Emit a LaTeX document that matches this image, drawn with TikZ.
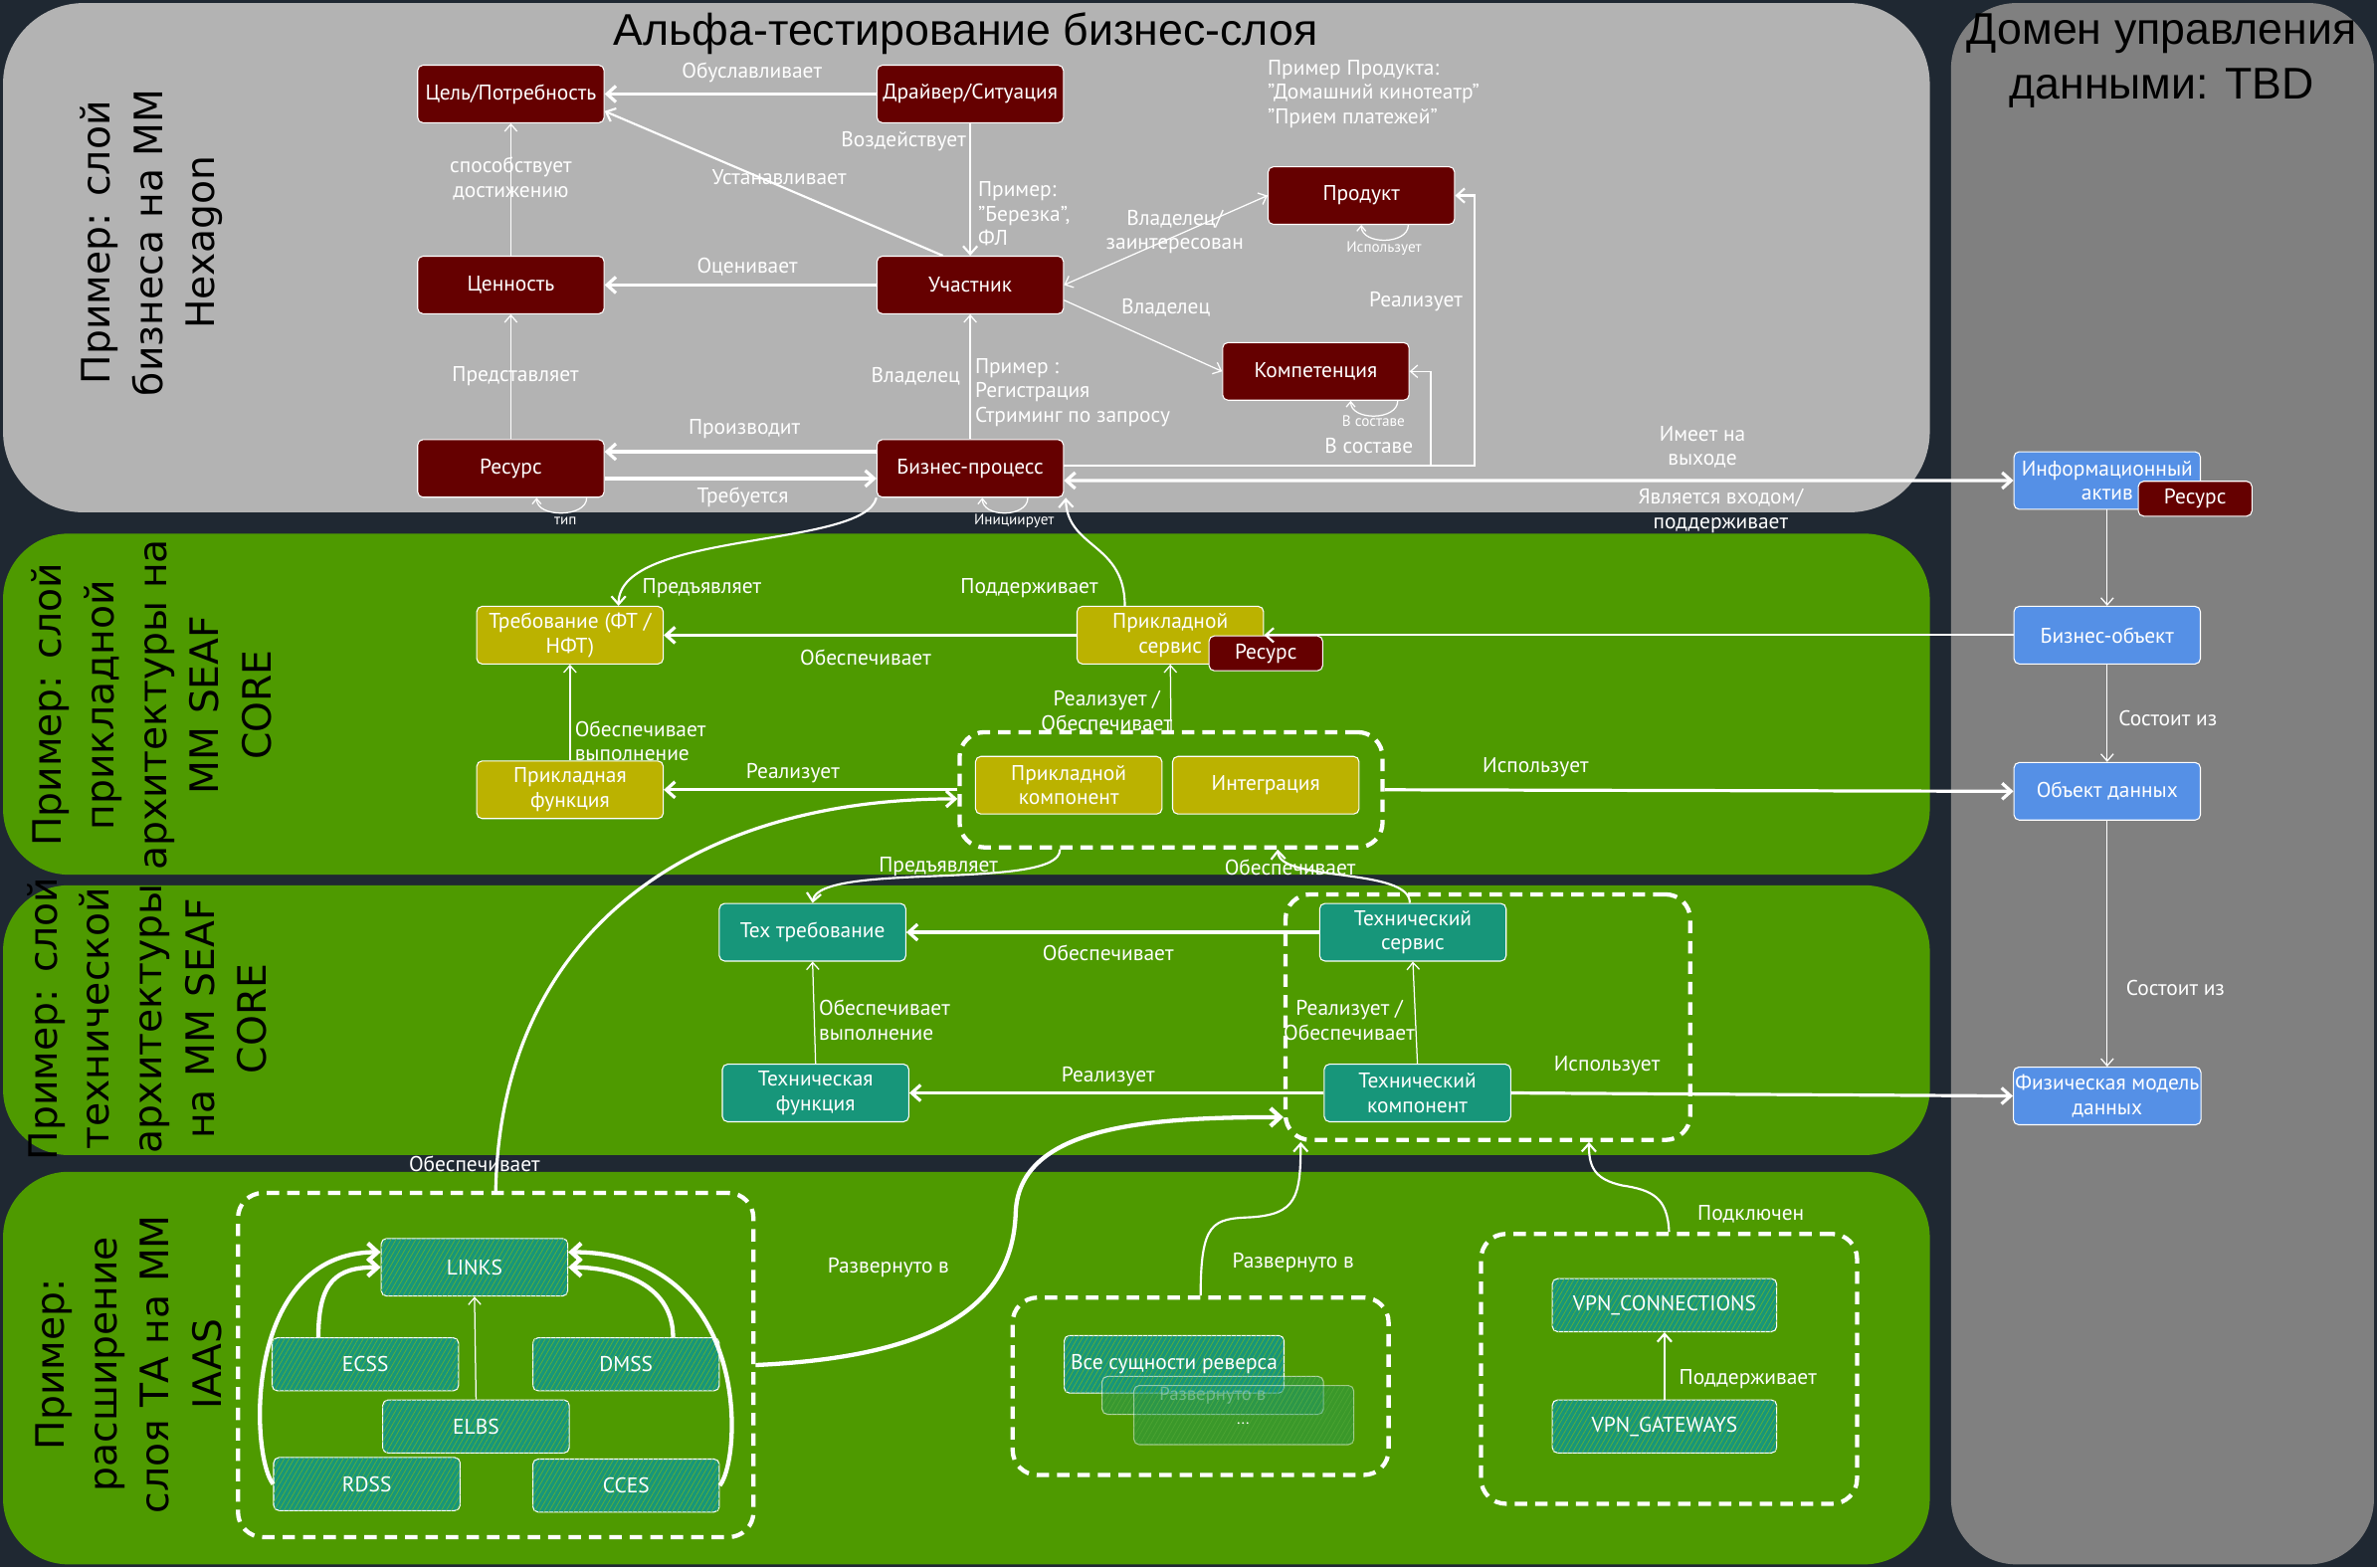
\documentclass[tikz,border=0pt]{standalone}
\usepackage{fontspec}
\setmainfont{PT Sans}
\newfontfamily\headfont{Liberation Sans}
\newfontfamily\sidefont{DejaVu Sans}
\usetikzlibrary{arrows.meta,patterns,patterns.meta}

\definecolor{bgnavy}{HTML}{1F2832}
\definecolor{bizgray}{HTML}{B3B3B3}
\definecolor{datagray}{HTML}{808080}
\definecolor{layergreen}{HTML}{4E9A00}
\definecolor{bizred}{HTML}{650000}
\definecolor{appolive}{HTML}{BBB200}
\definecolor{techteal}{HTML}{17967A}
\definecolor{datablue}{HTML}{5590E6}
\definecolor{hatchgreen}{HTML}{5DB03A}

\tikzset{
  box/.style={draw=white, line width=0.6pt, rounded corners=3pt,
    minimum width=3.69cm, minimum height=1.14cm, text=white, align=center,
    inner sep=1pt, font=\fontsize{12}{13.7}\selectfont},
  biz/.style={box, fill=bizred},
  app/.style={box, fill=appolive},
  tec/.style={box, fill=techteal},
  dat/.style={box, fill=datablue},
  hatched/.style={box, fill=techteal, minimum height=1.05cm,
    postaction={pattern={Lines[angle=60,distance=2.4pt,line width=0.4pt]}, pattern color=hatchgreen}},
  tagbox/.style={box, fill=bizred, minimum width=2.25cm, minimum height=0.69cm},
  lbl/.style={text=white, align=center, inner sep=0pt, font=\fontsize{12}{13.7}\selectfont},
  lbll/.style={lbl, align=left, anchor=west},
  tinylbl/.style={lbl, font=\fontsize{8.5}{10}\selectfont},
  link/.style={draw=white, line width=0.7pt, -{Straight Barb[length=4pt,width=7pt]}},
  linkm/.style={draw=white, line width=1.2pt, -{Straight Barb[length=4.5pt,width=8pt]}},
  linkb/.style={draw=white, line width=1.8pt, -{Straight Barb[length=5pt,width=9pt]}},
  linkx/.style={draw=white, line width=2.4pt, -{Straight Barb[length=5.5pt,width=10pt]}},
  selfloop/.style={draw=white, line width=0.7pt, -{Straight Barb[length=3pt,width=5pt]}},
  groupbox/.style={draw=white, line width=2.4pt, dash pattern=on 7pt off 4.5pt, rounded corners=14pt},
  sidelbl/.style={rotate=90, align=center, text=black, inner sep=0pt,
    font=\sidefont\fontsize{22}{29.5}\selectfont},
  headlbl/.style={align=center, text=black, inner sep=0pt,
    font=\headfont\fontsize{25}{30.7}\selectfont},
}

\begin{document}
\begin{tikzpicture}[x=0.03cm, y=-0.03cm]
\useasboundingbox (0,0) rectangle (1568,1034);
\fill[bgnavy] (0,0) rectangle (1568,1034);

% layer panels
\fill[bizgray, rounded corners=1.6cm] (2,2) rectangle (1273,338);
\fill[datagray, rounded corners=1.3cm] (1287,2) rectangle (1566,1032);
\fill[layergreen, rounded corners=1.3cm] (2,352) rectangle (1273,577);
\fill[layergreen, rounded corners=1.3cm] (2,584) rectangle (1273,762);
\fill[layergreen, rounded corners=1.3cm] (2,773) rectangle (1273,1032);

% panel headings
\node[headlbl] (tbiz) at (637,22) {Альфа-тестирование бизнес-слоя};
\node[headlbl] (tdata) at (1426,40) {Домен управления\\данными: TBD};
\node[sidelbl] (sbiz) at (100,160) {Пример: слой\\бизнеса на ММ\\Hexagon};
\node[sidelbl] (sapp) at (100,465) {Пример: слой\\прикладной\\архитектуры на\\ММ SEAF\\CORE};
\node[sidelbl] (stech) at (97,672) {Пример: слой\\технической\\архитектуры\\на ММ SEAF\\CORE};
\node[sidelbl] (siaas) at (85,900) {Пример:\\расширение\\слоя ТА на ММ\\IAAS};

% business layer
\node[biz] (cel) at (337,62) {Цель/Потребность};
\node[biz] (drv) at (640,62) {Драйвер/Ситуация};
\node[biz] (cen) at (337,188) {Ценность};
\node[biz] (uch) at (640,188) {Участник};
\node[biz] (prod) at (898,129) {Продукт};
\node[biz] (komp) at (868,245) {Компетенция};
\node[biz] (res) at (337,309) {Ресурс};
\node[biz] (bp) at (640,309) {Бизнес-процесс};

% data domain
\node[dat] (ia) at (1390,317) {Информационный\\актив};
\node[tagbox] (iatag) at (1448,329) {Ресурс};
\node[dat] (bo) at (1390,419) {Бизнес-объект};
\node[dat] (od) at (1390,522) {Объект данных};
\node[dat] (fmd) at (1390,723) {Физическая модель\\данных};

% application layer
\node[app] (treb) at (376,419) {Требование (ФТ /\\НФТ)};
\node[app] (ps) at (772,419) {Прикладной\\сервис};
\node[tagbox] (pstag) at (835,431) {Ресурс};
\node[app] (pf) at (376,521) {Прикладная\\функция};
\node[app] (pk) at (705,518) {Прикладной\\компонент};
\node[app] (integ) at (835,518) {Интеграция};
\node[groupbox, minimum width=8.37cm, minimum height=2.28cm] (gapp) at (772.5,521) {};

% technical layer
\node[tec] (tt) at (536,615) {Тех требование};
\node[tec] (ts) at (932,615) {Технический\\сервис};
\node[tec] (tf) at (538,721) {Техническая\\функция};
\node[tec] (tk) at (935,721) {Технический\\компонент};
\node[groupbox, minimum width=8.01cm, minimum height=4.86cm] (gtech) at (981.5,671) {};

% IAAS extension
\node[hatched, minimum height=1.14cm] (links) at (313,836) {LINKS};
\node[hatched] (ecss) at (241,900) {ECSS};
\node[hatched] (dmss) at (413,900) {DMSS};
\node[hatched] (elbs) at (314,941) {ELBS};
\node[hatched] (rdss) at (242,979) {RDSS};
\node[hatched] (cces) at (413,980) {CCES};
\node[groupbox, minimum width=10.2cm, minimum height=6.81cm] (glinks) at (327,900.5) {};

\node[hatched, minimum width=4.35cm, minimum height=1.14cm] (rev1) at (774.5,900) {Все сущности реверса};
\node[hatched, minimum width=4.38cm, minimum height=0.75cm, fill opacity=0.4, draw opacity=0.6, text opacity=0.55, font=\fontsize{10.5}{12}\selectfont] (rev2) at (800,920.5) {Развернуто в};
\node[hatched, minimum width=4.35cm, minimum height=1.17cm, fill opacity=0.35, draw opacity=0.5] (rev3) at (820.5,933.5) {};
\node[lbl, font=\fontsize{9}{10}\selectfont] (rev3dots) at (820,939) {...};
\node[groupbox, minimum width=7.44cm, minimum height=3.51cm] (grev) at (792,914.5) {};

\node[hatched, minimum width=4.44cm] (vpnc) at (1098,861) {VPN\_CONNECTIONS};
\node[hatched, minimum width=4.44cm] (vpng) at (1098,941) {VPN\_GATEWAYS};
\node[groupbox, minimum width=7.44cm, minimum height=5.34cm] (gvpn) at (1101,903) {};

% business connectors
\draw[linkb] (drv.west) -- (cel.east);
\draw[linkm] (drv.south) -- (uch.north);
\draw[linkm] ([xshift=-0.54cm]uch.north) -- ([yshift=0.24cm]cel.south east);
\draw[linkb] (uch.west) -- (cen.east);
\draw[link] (cen.north) -- (cel.south);
\draw[link] (res.north) -- (cen.south);
\draw[linkb] ([yshift=0.33cm]bp.west) -- ([yshift=0.33cm]res.east);
\draw[linkb] ([yshift=-0.2cm]res.east) -- ([yshift=-0.2cm]bp.west);
\draw[link] (bp.north) -- (uch.south);
\draw[link, {Straight Barb[length=4pt,width=7pt]}-{Straight Barb[length=4pt,width=7pt]}] (uch.east) -- (prod.west);
\draw[link] ([yshift=-0.3cm]uch.east) -- (komp.west);
\draw[linkm] ([yshift=0.06cm]bp.east) -| ([xshift=0.39cm]prod.east) -- (prod.east);
\draw[link] ([yshift=0.06cm]bp.east) -| ([xshift=0.42cm]komp.east) -- (komp.east);
\draw[linkb, {Straight Barb[length=5pt,width=9pt]}-{Straight Barb[length=5pt,width=9pt]}] ([yshift=-0.24cm]bp.east) -- (ia.west);

% self loops
\draw[selfloop] ([xshift=1.5cm]res.south) .. controls +(0,-0.4cm) and +(0,-0.4cm) .. ([xshift=0.51cm]res.south);
\draw[selfloop] ([xshift=1.14cm]bp.south) .. controls +(0,-0.4cm) and +(0,-0.4cm) .. ([xshift=0.24cm]bp.south);
\draw[selfloop] ([xshift=0.93cm]prod.south) .. controls +(0,-0.4cm) and +(0,-0.4cm) .. (prod.south);
\draw[selfloop] ([xshift=1.62cm]komp.south) .. controls +(0,-0.4cm) and +(0,-0.4cm) .. ([xshift=0.69cm]komp.south);

% data domain connectors
\draw[link] (ia.south) -- (bo.north);
\draw[link] (bo.south) -- (od.north);
\draw[link] (od.south) -- (fmd.north);
\draw[linkm] (bo.west) -- (ps.east);

% application connectors
\draw[linkm] (bp.south west) .. controls (570,362) and (408,350) .. ([xshift=0.96cm]treb.north);
\draw[linkm] ([xshift=-0.9cm]ps.north) .. controls (742,358) and (704,362) .. ([xshift=1.89cm]bp.south);
\draw[linkb] (ps.west) -- (treb.east);
\draw[link] (pf.north) -- (treb.south);
\draw[linkb] (gapp.west) -- (pf.east);
\draw[link] (gapp.north) -- (ps.south);
\draw[linkb] (gapp.east) -- (od.west);
\draw[linkm] ([xshift=-2.2cm]gapp.south) .. controls (700,588) and (540,568) .. (tt.north);
\draw[linkm] ([xshift=-0.06cm]ts.north) .. controls (930,572) and (844,582) .. ([xshift=2.11cm]gapp.south);

% technical connectors
\draw[linkb] (ts.west) -- (tt.east);
\draw[link] (tf.north) -- (tt.south);
\draw[linkb] (tk.west) -- (tf.east);
\draw[link] (tk.north) -- (ts.south);
\draw[linkb] (tk.east) -- (fmd.west);

% connectors from the IAAS panel
\draw[linkb] (glinks.north) .. controls (330,620) and (450,527) .. ([yshift=-0.18cm]gapp.west);
\draw[linkx] (glinks.east) .. controls (620,895) and (668,860) .. (670,800) .. controls (672,742) and (760,737) .. ([yshift=-1.98cm]gtech.west);
\draw[linkm] (grev.north) .. controls (792,806) and (800,804) .. (825,803) .. controls (855,801) and (858,790) .. ([xshift=-3.705cm]gtech.south);
\draw[linkm] (gvpn.north) .. controls (1100,790) and (1090,785) .. (1070,782) .. controls (1052,778) and (1048,770) .. ([xshift=2.0cm]gtech.south);

% IAAS internal connectors
\draw[link] (elbs.north) -- (links.south);
\draw[linkx] ([xshift=-0.93cm]ecss.north) .. controls (210,845) and (222,836) .. (links.west);
\draw[linkx] ([xshift=0.93cm]dmss.north) .. controls (444,845) and (404,836) .. (links.east);
\draw[linkx] (rdss.west) .. controls (165,960) and (160,826) .. ([yshift=0.3cm]links.west);
\draw[linkx] (cces.east) .. controls (490,960) and (495,826) .. ([yshift=0.3cm]links.east);
\draw[linkm] (vpng.north) -- (vpnc.south);

% business labels
\node[lbll] (nprod) at (836,62) {Пример Продукта:\\"Домашний кинотеатр"\\"Прием платежей"};
\node[lbl] (e1) at (496,48) {Обуславливает};
\node[lbl] (e2) at (596,93) {Воздействует};
\node[lbll] (e3) at (645,141) {Пример:\\"Березка",\\ФЛ};
\node[lbl] (e4) at (514,117) {Устанавливает};
\node[lbl] (e5) at (337,118) {способствует\\достижению};
\node[lbl] (e6) at (493,176) {Оценивает};
\node[lbl] (e7) at (775,153) {Владелец/\\заинтересован};
\node[lbl] (e8) at (769,203) {Владелец};
\node[lbl] (e9) at (934,199) {Реализует};
\node[lbl] (e10) at (340,248) {Представляет};
\node[lbl] (e11) at (604,248) {Владелец};
\node[lbll] (e12) at (643,259) {Пример :\\Регистрация\\Стриминг по запросу};
\node[lbl] (e13) at (491,283) {Производит};
\node[lbl] (e14) at (490,328) {Требуется};
\node[lbl] (e15) at (903,294) {В составе};
\node[lbl] (e16) at (1123,295) {Имеет на\\выходе};
\node[lbl] (e17) at (1135,337) {Является входом/\\поддерживает};
\node[tinylbl] (e18) at (373,344) {тип};
\node[tinylbl] (e19) at (669,344) {Инициирует};
\node[tinylbl] (e20) at (913,164) {Использует};
\node[tinylbl] (e21) at (906,278) {В составе};

% application labels
\node[lbl] (a1) at (463,388) {Предъявляет};
\node[lbl] (a2) at (679,388) {Поддерживает};
\node[lbl] (a3) at (571,434) {Обеспечивает};
\node[lbll] (a4) at (379,489) {Обеспечивает\\выполнение};
\node[lbl] (a5) at (523,510) {Реализует};
\node[lbl] (a6) at (730,469) {Реализует /\\Обеспечивает};
\node[lbl] (a7) at (1013,506) {Использует};
\node[lbl] (a8) at (619,572) {Предъявляет};
\node[lbl] (a9) at (851,572) {Обеспечивает};

% data labels
\node[lbl] (d1) at (1430,474) {Состоит из};
\node[lbl] (d2) at (1435,652) {Состоит из};

% technical labels
\node[lbl] (t1) at (731,629) {Обеспечивает};
\node[lbll] (t2) at (540,673) {Обеспечивает\\выполнение};
\node[lbl] (t3) at (731,710) {Реализует};
\node[lbl] (t4) at (890,673) {Реализует /\\Обеспечивает};
\node[lbl] (t5) at (1060,703) {Использует};
\node[lbl] (t6) at (313,768) {Обеспечивает};

% IAAS labels
\node[lbl] (i1) at (586,836) {Развернуто в};
\node[lbl] (i2) at (853,833) {Развернуто в};
\node[lbl] (i3) at (1155,801) {Подключен};
\node[lbl] (i4) at (1153,910) {Поддерживает};
\end{tikzpicture}
\end{document}
